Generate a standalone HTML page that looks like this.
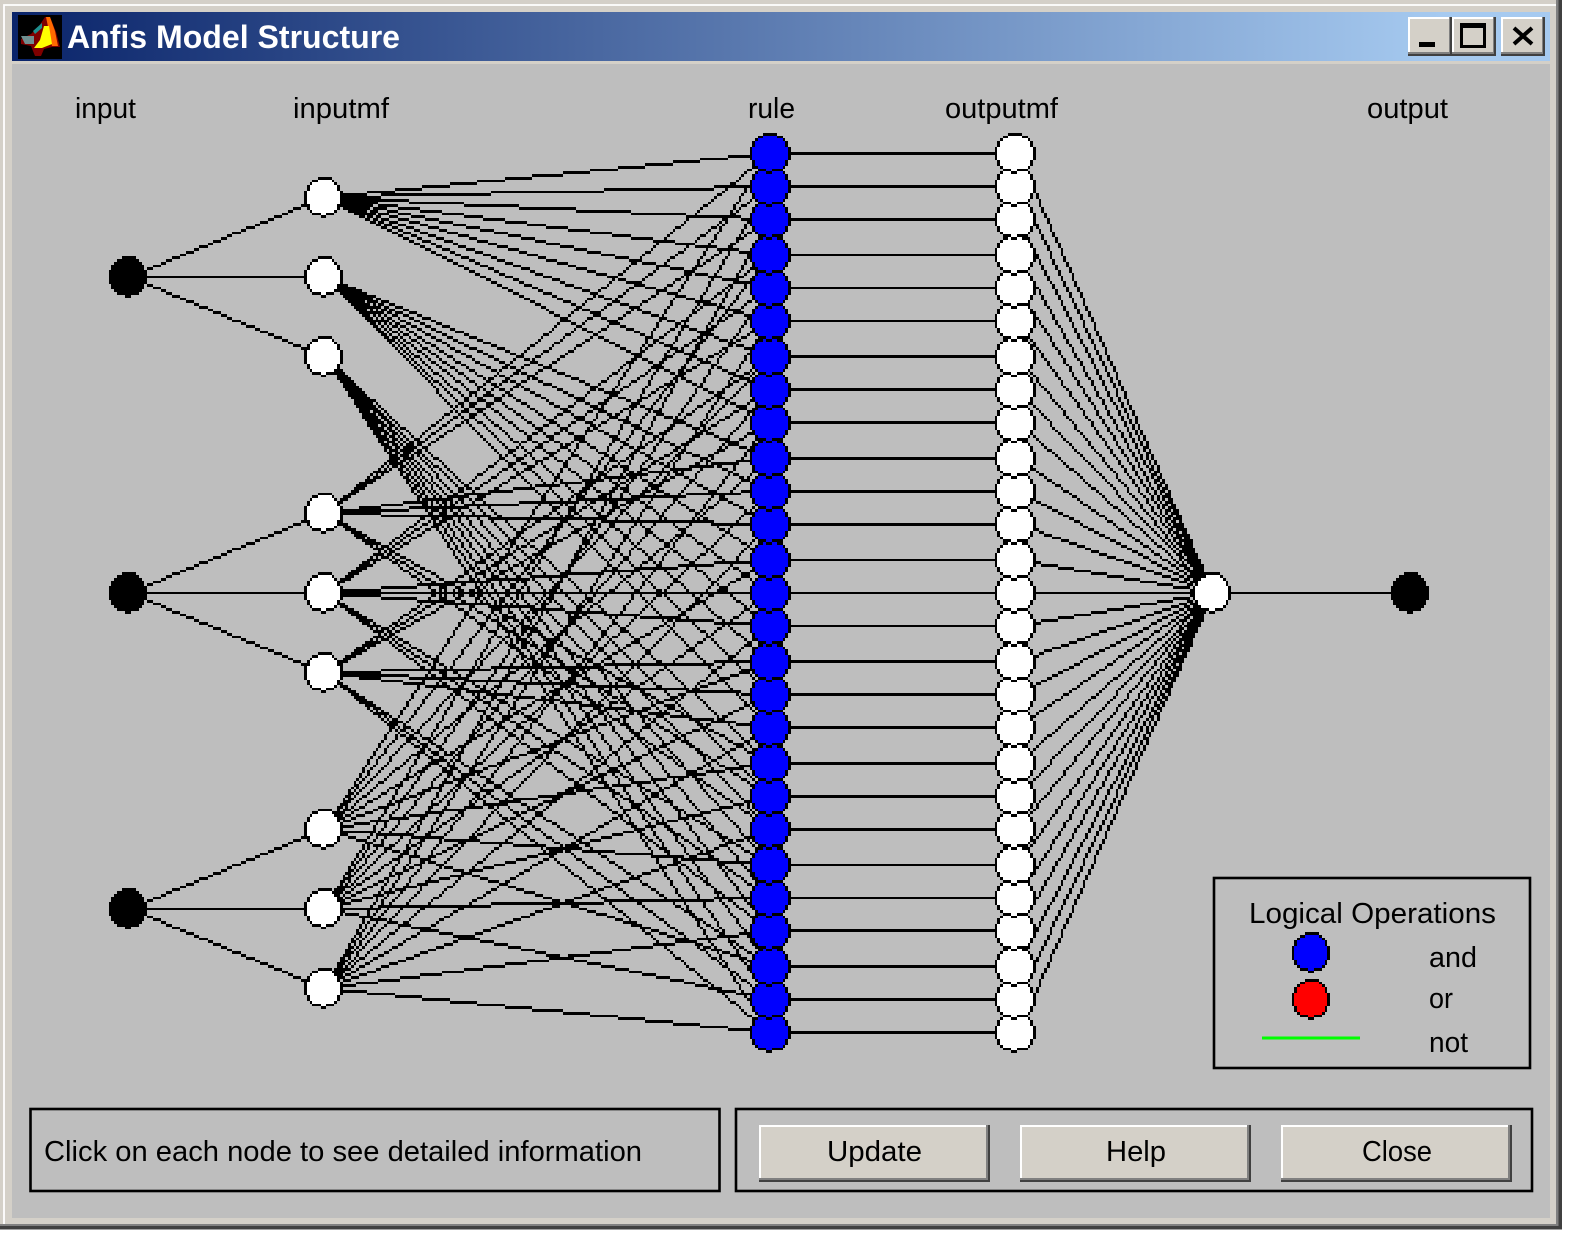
<!DOCTYPE html>
<html><head><meta charset="utf-8"><title>Anfis Model Structure</title>
<style>html,body{margin:0;padding:0;background:#fff}svg{display:block}text{font-family:"Liberation Sans",sans-serif;font-size:29px;fill:#000}</style></head>
<body>
<svg id="root" width="1569" height="1238" viewBox="0 0 1569 1238" xmlns="http://www.w3.org/2000/svg">
<defs><linearGradient id="t" x1="0" x2="1" y1="0" y2="0"><stop offset="0" stop-color="#0a246a"/><stop offset="0.93" stop-color="#a6caf0"/></linearGradient></defs>
<rect width="1569" height="1238" fill="#fff"/>
<rect x="0" y="0" width="1562" height="1229.500" fill="#404040"/>
<rect x="0" y="0" width="1558.500" height="1226" fill="#808080"/>
<rect x="0" y="0" width="1556" height="1224" fill="#d4d0c8"/>
<path d="M4 1224V5H1556" fill="none" stroke="#fff" stroke-width="1.800"/>
<rect x="12" y="12" width="1538" height="49" fill="url(#t)"/>
<rect x="12" y="64" width="1538" height="1154" fill="#bebebe"/>
<rect x="18" y="15" width="44" height="44" fill="#000"/>
<path d="M21 39l10-5 8-8 6-9h5l6 15 4 15h-8l-8 2-3 7-6 0-4-10-10-2z" fill="#7f0000"/>
<path d="M46 17h4l5 14 3 15h-6z" fill="#ff6a00"/>
<path d="M44 26h5l3 18-10 4h-8l6-8z" fill="#ffff00"/>
<path d="M21 36h13v8H25z" fill="#6f8f90"/><path d="M33 31l9-8v5l-7 6z" fill="#1f8f8f"/>
<text x="67" y="48" textLength="333" lengthAdjust="spacingAndGlyphs" style="font-weight:bold;font-size:32px;fill:#fff">Anfis Model Structure</text>
<g id="btns">
<rect x="1408" y="17" width="44" height="39" fill="#404040"/><rect x="1408" y="17" width="42" height="37" fill="#808080"/><rect x="1408" y="17" width="41" height="35" fill="#fff"/><rect x="1410" y="19" width="39" height="33" fill="#d4d0c8"/>
<rect x="1452" y="17" width="44" height="39" fill="#404040"/><rect x="1452" y="17" width="42" height="37" fill="#808080"/><rect x="1452" y="17" width="41" height="35" fill="#fff"/><rect x="1454" y="19" width="39" height="33" fill="#d4d0c8"/>
<rect x="1501" y="17" width="44" height="39" fill="#404040"/><rect x="1501" y="17" width="42" height="37" fill="#808080"/><rect x="1501" y="17" width="41" height="35" fill="#fff"/><rect x="1503" y="19" width="39" height="33" fill="#d4d0c8"/>
<rect x="1419" y="42" width="16" height="5" fill="#000"/>
<rect x="1461.500" y="24.500" width="23" height="22" fill="none" stroke="#000" stroke-width="3"/><rect x="1460" y="23" width="26" height="5" fill="#000"/>
<path d="M1514 28l18 16M1532 28l-18 16" stroke="#000" stroke-width="4" fill="none"/>
</g>
<text x="75" y="118" textLength="61" lengthAdjust="spacingAndGlyphs">input</text>
<text x="293" y="118" textLength="96" lengthAdjust="spacingAndGlyphs">inputmf</text>
<text x="748" y="118" textLength="47" lengthAdjust="spacingAndGlyphs">rule</text>
<text x="945" y="118" textLength="113" lengthAdjust="spacingAndGlyphs">outputmf</text>
<text x="1367" y="118" textLength="81" lengthAdjust="spacingAndGlyphs">output</text>

<g id="vec">
<g fill="none" stroke="#000" stroke-linejoin="bevel" stroke-width="2.300" shape-rendering="crispEdges">
<path d="M324 198L128 277H324M128 277L324 356M324 513L128 592H324M128 592L324 671M324 828L128 907H324M128 907L324 986M1211 592H1409"/>
<path d="M769 152L324 198L769 186L324 198L769 220L324 198L769 254L324 198L769 288L324 198L769 322L324 198L769 355L324 198L769 389L324 198L769 423"/>
<path d="M769 457L324 277L769 491L324 277L769 525L324 277L769 559L324 277L769 592L324 277L769 626L324 277L769 660L324 277L769 694L324 277L769 728"/>
<path d="M769 761L324 356L769 795L324 356L769 829L324 356L769 862L324 356L769 896L324 356L769 930L324 356L769 964L324 356L769 998L324 356L769 1032"/>
<path d="M769 152L324 513L769 186L324 513L769 220L324 513L769 457L324 513L769 491L324 513L769 525L324 513L769 761L324 513L769 795L324 513L769 829"/>
<path d="M769 254L324 592L769 288L324 592L769 322L324 592L769 559L324 592L769 592L324 592L769 626L324 592L769 862L324 592L769 896L324 592L769 930"/>
<path d="M769 355L324 671L769 389L324 671L769 423L324 671L769 660L324 671L769 694L324 671L769 728L324 671L769 964L324 671L769 998L324 671L769 1032"/>
<path d="M769 152L324 828L769 254L324 828L769 355L324 828L769 457L324 828L769 559L324 828L769 660L324 828L769 761L324 828L769 862L324 828L769 964"/>
<path d="M769 186L324 907L769 288L324 907L769 389L324 907L769 491L324 907L769 592L324 907L769 694L324 907L769 795L324 907L769 896L324 907L769 998"/>
<path d="M769 220L324 986L769 322L324 986L769 423L324 986L769 525L324 986L769 626L324 986L769 728L324 986L769 829L324 986L769 930L324 986L769 1032"/>
<path stroke-width="2.800" d="M769 153H1015M769 186H1015M769 219H1015M769 255H1015M769 288H1015M769 321H1015M769 356H1015M769 389H1015M769 422H1015M769 458H1015M769 491H1015M769 524H1015M769 559H1015M769 592H1015M769 626H1015M769 661H1015M769 694H1015M769 727H1015M769 763H1015M769 796H1015M769 829H1015M769 862H1015M769 899H1015M769 932H1015M769 965H1015M769 998H1015M769 1031H1015"/>
<path stroke-width="1.800" d="M1015 152L1211 592L1015 186L1211 592L1015 220L1211 592L1015 254L1211 592L1015 288L1211 592L1015 322L1211 592L1015 355L1211 592L1015 389L1211 592L1015 423L1211 592L1015 457L1211 592L1015 491L1211 592L1015 525L1211 592L1015 559L1211 592L1015 592L1211 592L1015 626L1211 592L1015 660L1211 592L1015 694L1211 592L1015 728L1211 592L1015 761L1211 592L1015 795L1211 592L1015 829L1211 592L1015 862L1211 592L1015 896L1211 592L1015 930L1211 592L1015 964L1211 592L1015 998L1211 592L1015 1032"/>
</g>
<g fill="#000">
<ellipse cx="128" cy="277" rx="19.500" ry="20.500"/><ellipse cx="128" cy="592" rx="19.500" ry="20.500"/><ellipse cx="128" cy="907" rx="19.500" ry="20.500"/><ellipse cx="1409.500" cy="592" rx="19.500" ry="20.500"/>
</g>
<g fill="#fff" stroke="#000" stroke-width="2.600">
<ellipse cx="324" cy="198" rx="18.700" ry="19"/><ellipse cx="324" cy="277" rx="18.700" ry="19.500"/><ellipse cx="324" cy="356" rx="18.700" ry="19"/>
<ellipse cx="324" cy="513" rx="18.700" ry="19.500"/><ellipse cx="324" cy="592" rx="18.700" ry="19.500"/><ellipse cx="324" cy="671" rx="18.700" ry="19.500"/>
<ellipse cx="324" cy="828" rx="18.700" ry="19.500"/><ellipse cx="324" cy="907" rx="18.700" ry="19.500"/><ellipse cx="324" cy="986" rx="18.700" ry="19.500"/>
<ellipse cx="1211.500" cy="592" rx="18.700" ry="19.500"/>
</g>
<g fill="#0000ff" stroke="#000" stroke-width="2.600">
<ellipse cx="769" cy="152" rx="18.700" ry="18.500"/><ellipse cx="769" cy="186" rx="18.700" ry="18.500"/><ellipse cx="769" cy="220" rx="18.700" ry="18.500"/><ellipse cx="769" cy="254" rx="18.700" ry="18.500"/><ellipse cx="769" cy="288" rx="18.700" ry="18.500"/><ellipse cx="769" cy="322" rx="18.700" ry="18.500"/><ellipse cx="769" cy="355" rx="18.700" ry="18.500"/><ellipse cx="769" cy="389" rx="18.700" ry="18.500"/><ellipse cx="769" cy="423" rx="18.700" ry="18.500"/><ellipse cx="769" cy="457" rx="18.700" ry="18.500"/><ellipse cx="769" cy="491" rx="18.700" ry="18.500"/><ellipse cx="769" cy="525" rx="18.700" ry="18.500"/><ellipse cx="769" cy="559" rx="18.700" ry="18.500"/><ellipse cx="769" cy="592" rx="18.700" ry="18.500"/><ellipse cx="769" cy="626" rx="18.700" ry="18.500"/><ellipse cx="769" cy="660" rx="18.700" ry="18.500"/><ellipse cx="769" cy="694" rx="18.700" ry="18.500"/><ellipse cx="769" cy="728" rx="18.700" ry="18.500"/><ellipse cx="769" cy="761" rx="18.700" ry="18.500"/><ellipse cx="769" cy="795" rx="18.700" ry="18.500"/><ellipse cx="769" cy="829" rx="18.700" ry="18.500"/><ellipse cx="769" cy="862" rx="18.700" ry="18.500"/><ellipse cx="769" cy="896" rx="18.700" ry="18.500"/><ellipse cx="769" cy="930" rx="18.700" ry="18.500"/><ellipse cx="769" cy="964" rx="18.700" ry="18.500"/><ellipse cx="769" cy="998" rx="18.700" ry="18.500"/><ellipse cx="769" cy="1032" rx="18.700" ry="18.500"/>
</g>
<g fill="#fff" stroke="#000" stroke-width="2.600">
<ellipse cx="1015.500" cy="152" rx="18.700" ry="18.500"/><ellipse cx="1015.500" cy="186" rx="18.700" ry="18.500"/><ellipse cx="1015.500" cy="220" rx="18.700" ry="18.500"/><ellipse cx="1015.500" cy="254" rx="18.700" ry="18.500"/><ellipse cx="1015.500" cy="288" rx="18.700" ry="18.500"/><ellipse cx="1015.500" cy="322" rx="18.700" ry="18.500"/><ellipse cx="1015.500" cy="355" rx="18.700" ry="18.500"/><ellipse cx="1015.500" cy="389" rx="18.700" ry="18.500"/><ellipse cx="1015.500" cy="423" rx="18.700" ry="18.500"/><ellipse cx="1015.500" cy="457" rx="18.700" ry="18.500"/><ellipse cx="1015.500" cy="491" rx="18.700" ry="18.500"/><ellipse cx="1015.500" cy="525" rx="18.700" ry="18.500"/><ellipse cx="1015.500" cy="559" rx="18.700" ry="18.500"/><ellipse cx="1015.500" cy="592" rx="18.700" ry="18.500"/><ellipse cx="1015.500" cy="626" rx="18.700" ry="18.500"/><ellipse cx="1015.500" cy="660" rx="18.700" ry="18.500"/><ellipse cx="1015.500" cy="694" rx="18.700" ry="18.500"/><ellipse cx="1015.500" cy="728" rx="18.700" ry="18.500"/><ellipse cx="1015.500" cy="761" rx="18.700" ry="18.500"/><ellipse cx="1015.500" cy="795" rx="18.700" ry="18.500"/><ellipse cx="1015.500" cy="829" rx="18.700" ry="18.500"/><ellipse cx="1015.500" cy="862" rx="18.700" ry="18.500"/><ellipse cx="1015.500" cy="896" rx="18.700" ry="18.500"/><ellipse cx="1015.500" cy="930" rx="18.700" ry="18.500"/><ellipse cx="1015.500" cy="964" rx="18.700" ry="18.500"/><ellipse cx="1015.500" cy="998" rx="18.700" ry="18.500"/><ellipse cx="1015.500" cy="1032" rx="18.700" ry="18.500"/>
</g>
<ellipse cx="1311" cy="953" rx="18" ry="19" fill="#0000ff" stroke="#000" stroke-width="2.600"/>
<ellipse cx="1311" cy="1000" rx="18" ry="19" fill="#ff0000" stroke="#000" stroke-width="2.600"/>
</g>
<g id="px" shape-rendering="crispEdges"></g>

<rect x="1214" y="878" width="316" height="190" fill="none" stroke="#000" stroke-width="2.600"/>
<text x="1249" y="923" textLength="247" lengthAdjust="spacingAndGlyphs">Logical Operations</text>
<rect x="1262" y="1036.500" width="98" height="3" fill="#00ff00"/>
<text x="1429" y="967" textLength="48" lengthAdjust="spacingAndGlyphs">and</text>
<text x="1429" y="1008" textLength="24" lengthAdjust="spacingAndGlyphs">or</text>
<text x="1429" y="1052" textLength="39" lengthAdjust="spacingAndGlyphs">not</text>

<rect x="30.500" y="1109" width="689" height="82" fill="none" stroke="#000" stroke-width="2.600"/>
<text x="44" y="1161" textLength="598" lengthAdjust="spacingAndGlyphs">Click on each node to see detailed information</text>
<rect x="736" y="1109" width="796" height="82" fill="none" stroke="#000" stroke-width="2.600"/>

<rect x="759" y="1125" width="231" height="57" fill="#404040"/><rect x="759" y="1125" width="229" height="55" fill="#808080"/><rect x="759" y="1125" width="227" height="53" fill="#fff"/><rect x="761" y="1127" width="225" height="51" fill="#d4d0c8"/>
<rect x="1020" y="1125" width="231" height="57" fill="#404040"/><rect x="1020" y="1125" width="229" height="55" fill="#808080"/><rect x="1020" y="1125" width="227" height="53" fill="#fff"/><rect x="1022" y="1127" width="225" height="51" fill="#d4d0c8"/>
<rect x="1281" y="1125" width="231" height="57" fill="#404040"/><rect x="1281" y="1125" width="229" height="55" fill="#808080"/><rect x="1281" y="1125" width="227" height="53" fill="#fff"/><rect x="1283" y="1127" width="225" height="51" fill="#d4d0c8"/>
<text x="827" y="1161" textLength="95" lengthAdjust="spacingAndGlyphs">Update</text>
<text x="1106" y="1161" textLength="60" lengthAdjust="spacingAndGlyphs">Help</text>
<text x="1362" y="1161" textLength="70" lengthAdjust="spacingAndGlyphs">Close</text>
</svg>
<script>
(function(){
var s=2.747,sx=2.751,W=600,H=400,G=new Uint8Array(W*H);
var R=[55,67,79,92,104,116,129,141,153,166,178,190,203,215,227,240,252,264,277,289,301,314,326,338,351,363,375];
var M=[71,100,129,186,215,244,301,330,359];
var I=[100,215,330];
var cI=47,cM=118,cR=280,cO=370,cA=441,cZ=513;
function P(c,r,v){if(c>=0&&c<W&&r>=0&&r<H)G[r*W+c]=v;}
function L(x0,y0,x1,y1){var dx=x1-x0,dy=y1-y0,n=Math.max(Math.abs(dx),Math.abs(dy));for(var i=0;i<=n;i++)P(Math.round(x0+dx*i/n),Math.round(y0+dy*i/n),1);}
var K=[[5,9],[3,10],[2,11],[1,12],[1,12],[0,13],[0,13],[0,13],[0,13],[0,13],[1,12],[1,12],[2,11],[3,10],[6,7]];
var K2=[[5,9],[3,11],[2,12],[1,13],[1,13],[0,14],[0,14],[0,14],[0,14],[0,14],[1,13],[1,13],[2,12],[3,11],[6,7]];
function N(c,r,f,Q){Q=Q||K;function In(a,b){return b>=0&&b<Q.length&&a>=Q[b][0]&&a<=Q[b][1];}
 var l=c-7,t=r-7;for(var b=0;b<Q.length;b++)for(var a=Q[b][0];a<=Q[b][1];a++){var e=!In(a-1,b)||!In(a+1,b)||!In(a,b-1)||!In(a,b+1);P(l+a,t+b,e?1:f);}}
var i,k;
for(i=0;i<3;i++)for(k=0;k<3;k++)L(cI,I[i],cM,M[i*3+k]);
for(i=0;i<27;i++){
 L(cM,M[Math.floor(i/9)],cR,R[i]);
 L(cM,M[3+Math.floor(i/3)%3],cR,R[i]);
 L(cM,M[6+i%3],cR,R[i]);
 L(cR,R[i],cO,R[i]);
 L(cO,R[i],cA,215);
}
L(cA,215,cZ,215);
for(i=0;i<3;i++)N(cI,I[i],1);
for(i=0;i<9;i++)N(cM,M[i],2);
for(i=26;i>=0;i--)N(cR,R[i],3,K2);
for(i=26;i>=0;i--)N(cO-1,R[i],2,K2);
N(cA,215,2);N(cZ,215,1);
N(477,346,3);N(477,363,4);
var col={1:'#000',2:'#fff',3:'#00f',4:'#f00'},d={1:'',2:'',3:'',4:''};
function X(c){return Math.round(c*sx-1.34);}
function Y(r){return Math.round(r*s+1);}
for(var r=0;r<H;r++){var c=0;while(c<W){var v=G[r*W+c];if(!v){c++;continue;}var e=c;while(e<W&&G[r*W+e]==v)e++;
 d[v]+='M'+X(c)+' '+Y(r)+'H'+X(e)+'V'+Y(r+1)+'H'+X(c)+'Z';c=e;}}
var g=document.getElementById('px'),NS='http://www.w3.org/2000/svg';
for(var v in d){var p=document.createElementNS(NS,'path');p.setAttribute('d',d[v]);p.setAttribute('fill',col[v]);g.appendChild(p);}
var o=document.getElementById('vec');o.parentNode.removeChild(o);
})();
</script>
</body></html>
